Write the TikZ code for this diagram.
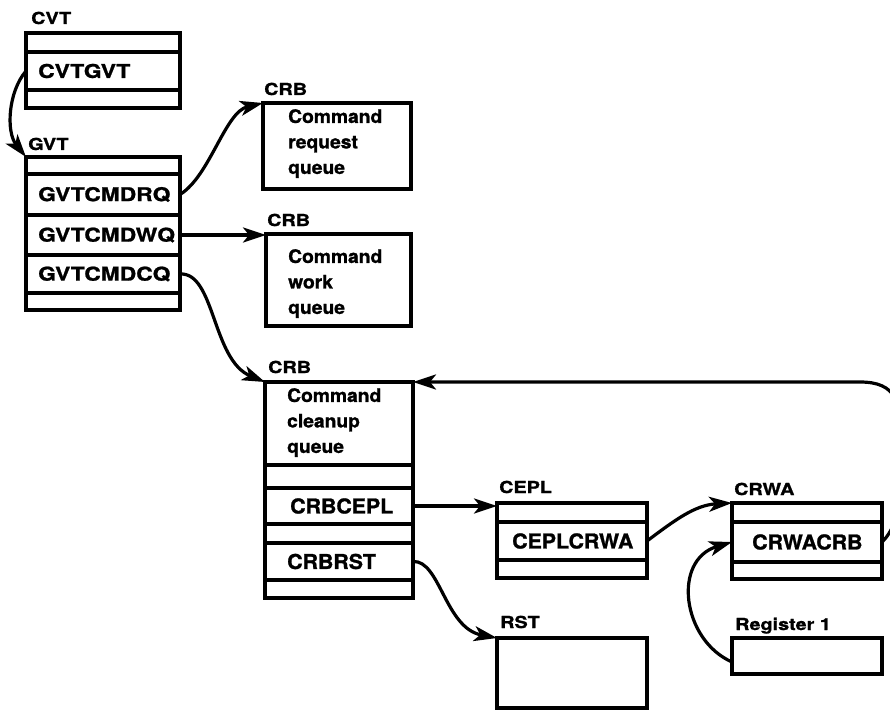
\documentclass[tikz,border=0pt]{standalone}
\usepackage{fontspec}
\usetikzlibrary{arrows.meta,calc}
% wide, heavy grotesque faces for the control-block labels
\newfontfamily\widesans[FakeStretch=1.2,FakeBold=1.2]{TeX Gyre Heros}
\newfontfamily\plainsans[FakeStretch=1.04,FakeBold=1.2]{TeX Gyre Heros}

% one rectangular slot of a control block, given by its corners (x1,y1,x2,y2)
\newcommand{\slot}[5]{%
  \node[slot, minimum width={(#4-#2)*1pt}, minimum height={(#5-#3)*1pt}]
    (#1) at ({(#2+#4)/2},{(#3+#5)/2}) {};}

\begin{document}
\begin{tikzpicture}[x=1pt,y=-1pt,
  slot/.style={draw, line width=3.8pt, rectangle, inner sep=0pt, outer sep=0pt},
  blocklabel/.style={font=\widesans\bfseries\fontsize{16.5}{18}\selectfont,
    anchor=base west, inner sep=0pt},
  gvtfield/.style={font=\widesans\bfseries\fontsize{19}{22}\selectfont,
    anchor=west, inner sep=0pt},
  field/.style={font=\plainsans\bfseries\fontsize{20.5}{24}\selectfont,
    anchor=west, inner sep=0pt},
  desc/.style={font=\plainsans\bfseries\fontsize{18.5}{25.5}\selectfont,
    align=left, anchor=north west, inner sep=0pt},
  ptr/.style={line width=3.2pt, -{Stealth[length=23pt,width=15pt,inset=6pt]}}]
\useasboundingbox (0,0) rectangle (890,711);

% ---- CVT ----
\slot{cvt1}{26}{33}{180}{52}
\slot{cvtgvt}{26}{52}{180}{90}
\slot{cvt3}{26}{90}{180}{108}
\node[blocklabel] (cvtlbl) at ([xshift=5pt]cvt1.north west) [yshift=9pt] {CVT};
\node[gvtfield] (t-cvtgvt) at ([xshift=12pt]cvtgvt.west) {CVTGVT};

% ---- GVT ----
\slot{gvt0}{26}{157}{180}{174}
\slot{gvtrq}{26}{174}{180}{215}
\slot{gvtwq}{26}{215}{180}{255}
\slot{gvtcq}{26}{255}{180}{293}
\slot{gvt4}{26}{293}{180}{310}
\node[blocklabel] (gvtlbl) at ([xshift=2pt]gvt0.north west) [yshift=7pt] {GVT};
\node[gvtfield] (t-gvtrq) at ([xshift=12pt]gvtrq.west) {GVTCMDRQ};
\node[gvtfield] (t-gvtwq) at ([xshift=12pt]gvtwq.west) {GVTCMDWQ};
\node[gvtfield] (t-gvtcq) at ([xshift=12pt]gvtcq.west) {GVTCMDCQ};

% ---- CRB: command request queue ----
\slot{crb1}{263}{103}{411}{189}
\node[blocklabel] (crb1lbl) at ([xshift=1pt]crb1.north west) [yshift=8pt] {CRB};
\node[desc] (d-crb1) at (288,109) {Command\\request\\queue};

% ---- CRB: command work queue ----
\slot{crb2}{266}{234}{411}{326}
\node[blocklabel] (crb2lbl) at ([xshift=1pt]crb2.north west) [yshift=8pt] {CRB};
\node[desc] (d-crb2) at (288,249) {Command\\work\\queue};

% ---- CRB: command cleanup queue ----
\slot{crb3a}{265}{382}{413}{465}
\slot{crb3b}{265}{465}{413}{488}
\slot{crbcepl}{265}{488}{413}{524}
\slot{crb3d}{265}{524}{413}{543}
\slot{crbrst}{265}{543}{413}{580}
\slot{crb3f}{265}{580}{413}{598}
\node[blocklabel] (crb3lbl) at ([xshift=3pt]crb3a.north west) [yshift=9pt] {CRB};
\node[desc] (d-crb3) at (287,388) {Command\\cleanup\\queue};
\node[field] (t-crbcepl) at ([xshift=25pt]crbcepl.west) {CRBCEPL};
\node[field] (t-crbrst) at ([xshift=22pt]crbrst.west) {CRBRST};

% ---- CEPL ----
\slot{cepl1}{497}{503}{647}{522}
\slot{ceplcrwa}{497}{522}{647}{560}
\slot{cepl3}{497}{560}{647}{578}
\node[blocklabel] (cepllbl) at ([xshift=2pt]cepl1.north west) [yshift=10pt] {CEPL};
\node[field] (t-ceplcrwa) at ([xshift=15pt]ceplcrwa.west) {CEPLCRWA};

% ---- RST ----
\slot{rst}{497}{638}{647}{708}
\node[blocklabel] (rstlbl) at ([xshift=3pt]rst.north west) [yshift=10pt] {RST};

% ---- CRWA ----
\slot{crwa1}{732}{503}{882}{522}
\slot{crwacrb}{732}{522}{882}{562}
\slot{crwa3}{732}{562}{882}{579}
\node[blocklabel] (crwalbl) at ([xshift=2pt]crwa1.north west) [yshift=8pt] {CRWA};
\node[field] (t-crwacrb) at ([xshift=20pt]crwacrb.west) {CRWACRB};

% ---- Register 1 ----
\slot{reg}{732}{638}{882}{674}
\node[blocklabel] (reglbl) at ([xshift=3pt]reg.north west) [yshift=8pt] {Register 1};

% ---- pointers ----
\draw[ptr] (cvtgvt.west) .. controls (8,92) and (6,132) .. (gvt0.north west);
\draw[ptr] (gvtrq.east) .. controls (210,176) and (225,112) .. (crb1.north west);
\draw[ptr] (gvtwq.east) -- (gvtwq.east -| crb2.west);
\draw[ptr] (gvtcq.east) .. controls (215,272) and (212,360) .. (crb3a.north west);
\draw[ptr] (crbcepl.east) -- (crbcepl.east -| cepl1.west);
\draw[ptr] (crbrst.east) .. controls (440,560) and (445,628) .. (rst.north west);
\draw[ptr] (ceplcrwa.east) .. controls (675,520) and (695,505) .. (crwa1.north west);
\draw[ptr] ($(reg.west)+(0,6)$) .. controls (682,640) and (672,560) .. (crwacrb.west);
\begin{scope}
  \clip (0,0) rectangle (890,711);
  \draw[ptr] (crwacrb.east) .. controls (895,530) and (905,500) .. (905,460)
    .. controls (905,400) and (895,382) .. (860,382) -- (crb3a.north east);
\end{scope}
\end{tikzpicture}
\end{document}
